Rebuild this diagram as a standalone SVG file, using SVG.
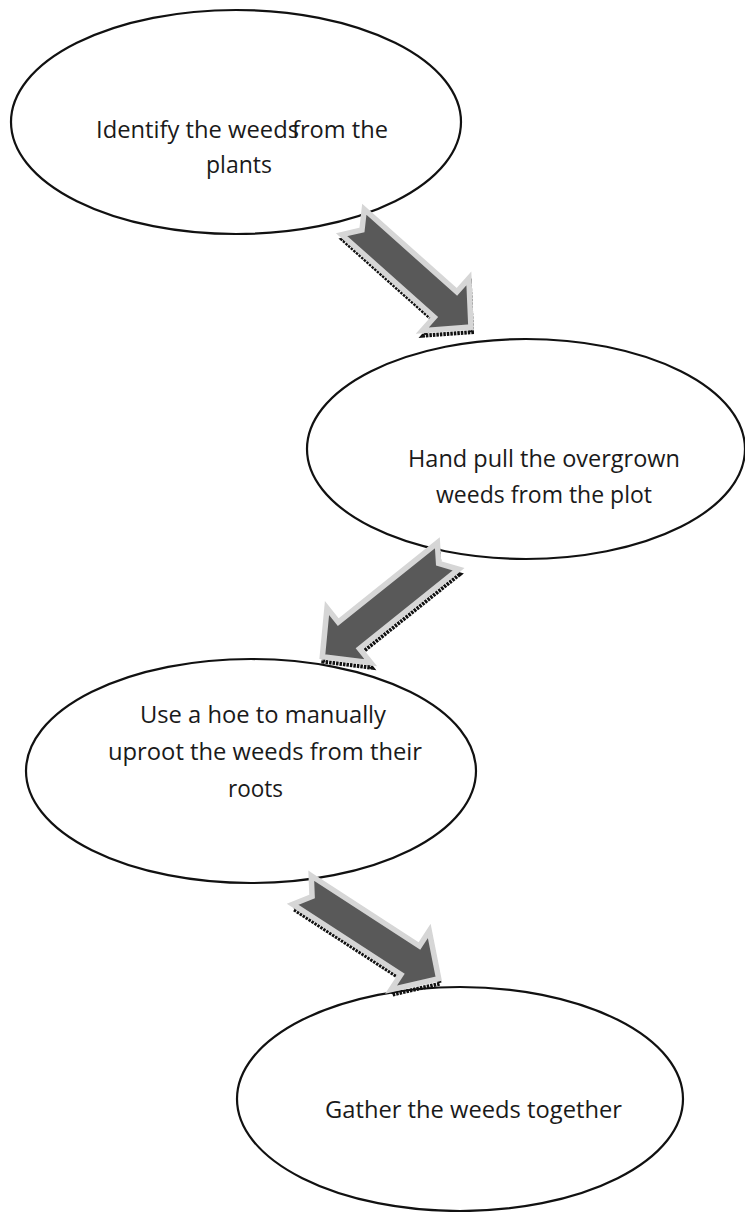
<svg xmlns="http://www.w3.org/2000/svg" width="745" height="1212" viewBox="0 0 745 1212">
<style>
.node ellipse{fill:#fff;stroke:#111;stroke-width:2.2}
.lbl{font-family:"Open Sans","Noto Sans","Liberation Sans",sans-serif;font-size:24px;fill:#1a1a1a}
.arrow{fill:#595959;stroke:#d6d6d6;stroke-width:5.5;stroke-linejoin:miter}
.shadow{fill:none;stroke:#111;stroke-width:4;stroke-dasharray:2.5 1;stroke-linejoin:miter}
</style>
<rect width="745" height="1212" fill="#fff"/>
<g id="node1" class="node">
<ellipse cx="236" cy="122" rx="225" ry="112"/>
<text class="lbl" y="138"><tspan x="96" textLength="203" lengthAdjust="spacingAndGlyphs">Identify the weeds</tspan><tspan x="292" textLength="96" lengthAdjust="spacingAndGlyphs">from the</tspan></text>
<text class="lbl" x="206" y="173" textLength="66" lengthAdjust="spacingAndGlyphs">plants</text>
</g>
<g id="node2" class="node">
<ellipse cx="526" cy="449" rx="219" ry="110"/>
<text class="lbl" x="408" y="467" textLength="272" lengthAdjust="spacingAndGlyphs">Hand pull the overgrown</text>
<text class="lbl" x="436" y="503" textLength="216" lengthAdjust="spacingAndGlyphs">weeds from the plot</text>
</g>
<g id="node3" class="node">
<ellipse cx="251" cy="771" rx="225" ry="112"/>
<text class="lbl" x="140" y="723" textLength="246" lengthAdjust="spacingAndGlyphs">Use a hoe to manually</text>
<text class="lbl" x="108" y="760" textLength="314" lengthAdjust="spacingAndGlyphs">uproot the weeds from their</text>
<text class="lbl" x="228" y="797" textLength="55" lengthAdjust="spacingAndGlyphs">roots</text>
</g>
<g id="node4" class="node">
<ellipse cx="460" cy="1099" rx="223" ry="112"/>
<text class="lbl" x="325" y="1118" textLength="297" lengthAdjust="spacingAndGlyphs">Gather the weeds together</text>
</g>
<g id="connectors">
<g id="arrow1">
<g transform="translate(1,5)"><polygon class="shadow" transform="translate(353,222) rotate(41.7)" points="0,-17 124,-17 124,-35 158,0 124,35 124,17 0,17 12,0"/></g>
<polygon class="arrow" transform="translate(353,222) rotate(41.7)" points="0,-17 124,-17 124,-35 158,0 124,35 124,17 0,17 12,0"/>
</g>
<g id="arrow2">
<g transform="translate(1,5)"><polygon class="shadow" transform="translate(448,556) rotate(141.3)" points="0,-17 127,-17 127,-35 161,0 127,35 127,17 0,17 12,0"/></g>
<polygon class="arrow" transform="translate(448,556) rotate(141.3)" points="0,-17 127,-17 127,-35 161,0 127,35 127,17 0,17 12,0"/>
</g>
<g id="arrow3">
<g transform="translate(1,5)"><polygon class="shadow" transform="translate(302,890) rotate(33)" points="0,-17 129,-17 129,-35 163,0 129,35 129,17 0,17 12,0"/></g>
<polygon class="arrow" transform="translate(302,890) rotate(33)" points="0,-17 129,-17 129,-35 163,0 129,35 129,17 0,17 12,0"/>
</g>
</g>
</svg>
